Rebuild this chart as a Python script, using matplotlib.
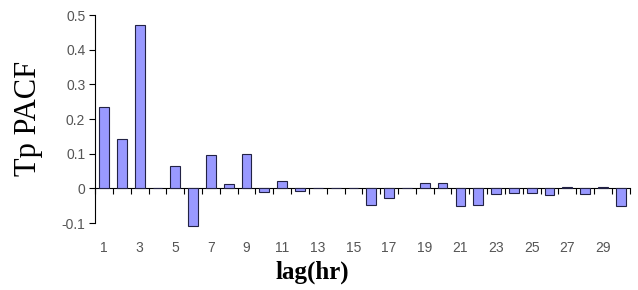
import matplotlib
matplotlib.use("Agg")
import matplotlib.pyplot as plt
import numpy as np

lags = list(range(1, 31))
pacf = [0.234, 0.142, 0.47, 0.0, 0.064, -0.11, 0.095, 0.013, 0.1, -0.01,
        0.02, -0.008, 0.0, 0.0, 0.0, -0.048, -0.027, 0.0, 0.016, 0.016,
        -0.05, -0.048, -0.015, -0.012, -0.012, -0.02, 0.003, -0.015, 0.003, -0.05]
tick_lags = list(range(1, 30, 2))
y_ticks = [-0.1, 0, 0.1, 0.2, 0.3, 0.4, 0.5]
y_tick_labels = ["-0.1", "0", "0.1", "0.2", "0.3", "0.4", "0.5"]

fig = plt.figure(figsize=(6.38, 2.90), dpi=100)
ax = fig.add_axes([0.149, 0.231, 0.838, 0.717])

ax.bar(lags, pacf, width=0.55, color="#9999FF", edgecolor="#222244", linewidth=0.8,
       zorder=3, clip_on=False)

ax.set_xlim(0.5, 30.5)
ax.set_ylim(-0.1, 0.5)

for s in ["top", "right"]:
    ax.spines[s].set_visible(False)
ax.spines["bottom"].set_position(("data", 0))
ax.spines["bottom"].set_color("black")
ax.spines["left"].set_color("black")

ax.set_xticks(tick_lags)
ax.set_xticklabels([str(t) for t in tick_lags], color="#555555", fontsize=10,
                   family="Liberation Sans")
ax.tick_params(axis="x", which="major", length=0, pad=38)
ax.set_xticks(np.arange(0.5, 31, 1.0), minor=True)
ax.tick_params(axis="x", which="minor", length=4, direction="out", width=0.8)

ax.set_yticks(y_ticks)
ax.set_yticklabels(y_tick_labels, color="#555555", fontsize=10, family="Liberation Sans")
ax.tick_params(axis="y", length=4, direction="out", width=0.8, pad=3)

fig.text(0.045, 0.59, "Tp PACF", rotation=90, ha="center", va="center",
         family="Liberation Serif", fontsize=22)
fig.text(0.49, 0.062, "lag(hr)", ha="center", va="center",
         family="Liberation Serif", fontsize=18, fontweight="bold")

fig.savefig("out.png", dpi=100)
